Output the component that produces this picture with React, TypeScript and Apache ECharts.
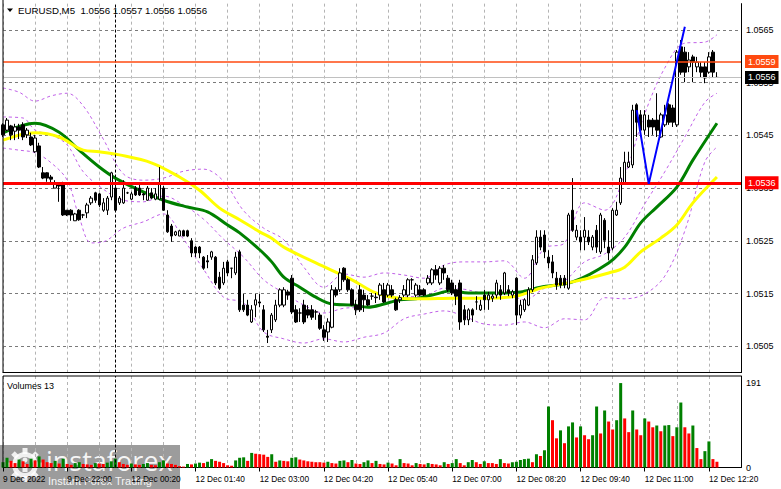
import React, { useEffect, useRef } from "react";
import * as echarts from "echarts";

const FONT = "'Liberation Sans', Arial, sans-serif";

// ---- candles (5-minute EURUSD) ----
const open = [
  1.05470,1.05460,1.05468,1.05458,1.05466,1.05470,1.05451,1.05447,1.05419,1.05430,
  1.05379,1.05379,1.05371,1.05350,1.05356,1.05360,1.05308,1.05308,1.05288,1.05308,
  1.05299,1.05303,1.05322,1.05341,1.05339,1.05308,1.05308,1.05333,1.05350,1.05322,
  1.05322,1.05341,1.05329,1.05350,1.05350,1.05339,1.05327,1.05341,1.05329,1.05329,
  1.05350,1.05299,1.05278,1.05261,1.05259,1.05269,1.05269,1.05250,1.05238,1.05238,
  1.05219,1.05212,1.05219,1.05219,1.05181,1.05170,1.05210,1.05198,1.05189,1.05229,
  1.05128,1.05128,1.05096,1.05128,1.05134,1.05119,1.05069,1.05081,1.05100,1.05128,
  1.05128,1.05153,1.05179,1.05119,1.05113,1.05128,1.05119,1.05119,1.05115,1.05109,
  1.05081,1.05077,1.05086,1.05157,1.05157,1.05198,1.05176,1.05157,1.05128,1.05157,
  1.05147,1.05138,1.05145,1.05143,1.05147,1.05157,1.05147,1.05157,1.05138,1.05138,
  1.05147,1.05147,1.05176,1.05147,1.05157,1.05157,1.05170,1.05170,1.05195,1.05170,
  1.05198,1.05179,1.05170,1.05157,1.05170,1.05119,1.05100,1.05119,1.05134,1.05119,
  1.05147,1.05138,1.05141,1.05147,1.05157,1.05151,1.05157,1.05147,1.05179,1.05109,
  1.05119,1.05128,1.05157,1.05208,1.05257,1.05261,1.05219,1.05210,1.05179,1.05179,
  1.05179,1.05160,1.05308,1.05257,1.05257,1.05257,1.05257,1.05238,1.05270,1.05229,
  1.05289,1.05238,1.05236,1.05299,1.05322,1.05360,1.05390,1.05394,1.05508,1.05489,
  1.05460,1.05479,1.05479,1.05479,1.05447,1.05470,1.05508,1.05502,1.05470,1.05618,
  1.05608,1.05580,1.05599,1.05580,1.05580,1.05580,1.05570,1.05608,1.05560,
];
const close = [
  1.05451,1.05479,1.05451,1.05466,1.05460,1.05447,1.05460,1.05432,1.05445,1.05390,
  1.05369,1.05369,1.05367,1.05360,1.05354,1.05299,1.05299,1.05299,1.05301,1.05290,
  1.05299,1.05318,1.05331,1.05327,1.05318,1.05322,1.05331,1.05379,1.05308,1.05331,
  1.05350,1.05341,1.05339,1.05337,1.05337,1.05337,1.05350,1.05331,1.05339,1.05360,
  1.05308,1.05267,1.05259,1.05267,1.05269,1.05259,1.05259,1.05227,1.05227,1.05227,
  1.05198,1.05210,1.05229,1.05170,1.05160,1.05198,1.05189,1.05198,1.05219,1.05119,
  1.05119,1.05109,1.05119,1.05138,1.05132,1.05081,1.05067,1.05109,1.05128,1.05157,
  1.05157,1.05147,1.05115,1.05096,1.05113,1.05096,1.05109,1.05105,1.05115,1.05084,
  1.05067,1.05096,1.05157,1.05147,1.05189,1.05176,1.05157,1.05128,1.05119,1.05119,
  1.05138,1.05128,1.05145,1.05142,1.05166,1.05134,1.05166,1.05147,1.05119,1.05142,
  1.05157,1.05176,1.05176,1.05166,1.05147,1.05147,1.05179,1.05195,1.05185,1.05198,
  1.05189,1.05157,1.05151,1.05145,1.05096,1.05100,1.05119,1.05109,1.05134,1.05128,
  1.05138,1.05147,1.05145,1.05170,1.05147,1.05189,1.05151,1.05153,1.05109,1.05128,
  1.05138,1.05157,1.05214,1.05257,1.05238,1.05229,1.05208,1.05189,1.05166,1.05166,
  1.05166,1.05299,1.05270,1.05270,1.05248,1.05270,1.05248,1.05257,1.05238,1.05299,
  1.05251,1.05227,1.05308,1.05308,1.05369,1.05399,1.05399,1.05498,1.05475,1.05460,
  1.05489,1.05466,1.05466,1.05460,1.05489,1.05489,1.05475,1.05475,1.05608,1.05570,
  1.05570,1.05593,1.05589,1.05589,1.05570,1.05559,1.05599,1.05570,1.05560,
];
const high = [
  1.05473,1.05483,1.05470,1.05472,1.05472,1.05475,1.05464,1.05455,1.05451,1.05436,
  1.05390,1.05380,1.05375,1.05365,1.05360,1.05362,1.05308,1.05310,1.05303,1.05310,
  1.05301,1.05322,1.05335,1.05343,1.05341,1.05331,1.05335,1.05381,1.05354,1.05335,
  1.05365,1.05343,1.05343,1.05354,1.05360,1.05341,1.05354,1.05350,1.05350,1.05390,
  1.05354,1.05308,1.05282,1.05269,1.05271,1.05271,1.05271,1.05255,1.05240,1.05240,
  1.05221,1.05223,1.05231,1.05221,1.05191,1.05210,1.05214,1.05198,1.05229,1.05233,
  1.05149,1.05138,1.05128,1.05149,1.05149,1.05128,1.05081,1.05113,1.05138,1.05160,
  1.05162,1.05157,1.05185,1.05128,1.05122,1.05138,1.05128,1.05128,1.05119,1.05113,
  1.05090,1.05103,1.05166,1.05162,1.05198,1.05200,1.05179,1.05160,1.05138,1.05166,
  1.05157,1.05147,1.05151,1.05151,1.05170,1.05170,1.05170,1.05166,1.05142,1.05147,
  1.05166,1.05179,1.05179,1.05170,1.05166,1.05160,1.05185,1.05198,1.05204,1.05202,
  1.05204,1.05185,1.05176,1.05166,1.05176,1.05128,1.05122,1.05122,1.05145,1.05138,
  1.05157,1.05153,1.05149,1.05176,1.05166,1.05191,1.05166,1.05157,1.05181,1.05138,
  1.05141,1.05162,1.05223,1.05270,1.05270,1.05270,1.05232,1.05223,1.05191,1.05185,
  1.05185,1.05303,1.05369,1.05280,1.05270,1.05295,1.05270,1.05261,1.05280,1.05303,
  1.05293,1.05270,1.05312,1.05324,1.05390,1.05419,1.05419,1.05508,1.05511,1.05498,
  1.05498,1.05489,1.05483,1.05530,1.05493,1.05508,1.05511,1.05508,1.05612,1.05631,
  1.05618,1.05608,1.05603,1.05599,1.05589,1.05589,1.05608,1.05612,1.05570,
];
const low = [
  1.05447,1.05458,1.05441,1.05441,1.05443,1.05441,1.05445,1.05430,1.05417,1.05388,
  1.05367,1.05362,1.05360,1.05350,1.05324,1.05297,1.05297,1.05288,1.05288,1.05288,
  1.05293,1.05293,1.05318,1.05322,1.05314,1.05305,1.05299,1.05327,1.05305,1.05318,
  1.05320,1.05339,1.05327,1.05335,1.05335,1.05327,1.05326,1.05329,1.05327,1.05327,
  1.05307,1.05265,1.05248,1.05259,1.05259,1.05259,1.05257,1.05219,1.05219,1.05217,
  1.05195,1.05198,1.05214,1.05166,1.05157,1.05166,1.05183,1.05179,1.05185,1.05115,
  1.05115,1.05107,1.05094,1.05105,1.05124,1.05077,1.05056,1.05075,1.05096,1.05124,
  1.05124,1.05138,1.05111,1.05094,1.05096,1.05092,1.05103,1.05100,1.05100,1.05081,
  1.05060,1.05058,1.05084,1.05143,1.05153,1.05172,1.05153,1.05126,1.05109,1.05115,
  1.05115,1.05126,1.05138,1.05132,1.05138,1.05132,1.05143,1.05143,1.05117,1.05132,
  1.05143,1.05143,1.05157,1.05143,1.05145,1.05145,1.05166,1.05166,1.05176,1.05166,
  1.05176,1.05153,1.05147,1.05128,1.05081,1.05090,1.05090,1.05096,1.05119,1.05117,
  1.05119,1.05119,1.05134,1.05141,1.05138,1.05147,1.05145,1.05141,1.05090,1.05103,
  1.05115,1.05126,1.05153,1.05204,1.05232,1.05217,1.05198,1.05179,1.05157,1.05160,
  1.05160,1.05157,1.05267,1.05251,1.05232,1.05232,1.05242,1.05232,1.05227,1.05225,
  1.05236,1.05213,1.05232,1.05297,1.05318,1.05356,1.05388,1.05388,1.05447,1.05447,
  1.05451,1.05447,1.05451,1.05447,1.05445,1.05466,1.05470,1.05466,1.05466,1.05565,
  1.05551,1.05570,1.05551,1.05570,1.05559,1.05549,1.05567,1.05559,1.05560,
];
const volume = [
  12,22,15,10,18,14,8,20,16,25,18,12,10,15,9,20,8,6,10,12,
  8,7,6,10,9,8,11,14,20,12,8,6,9,7,6,8,10,6,5,12,
  16,9,8,6,3,2,8,7,9,11,10,13,19,15,13,10,5,4,16,22,
  23,15,33,31,30,29,24,30,13,16,15,14,22,23,18,16,14,13,12,12,
  11,13,10,9,15,16,12,17,9,8,12,16,10,15,8,7,11,9,5,19,
  10,9,5,10,8,7,10,8,7,5,12,8,10,19,10,5,12,17,12,8,
  14,10,10,8,19,10,9,12,13,17,19,20,12,30,26,39,138,107,66,84,
  55,93,102,68,93,73,64,73,138,77,129,104,86,107,191,111,80,129,86,73,
  111,104,91,95,82,95,96,71,91,147,91,77,95,44,19,37,59,19,13,
];

// ---- indicators (read at sample candles) ----
const maGreenIdx = [0,8,14,19,24,28,34,40,46,51,56,59,64,67,70,74,78,82,87,91,95,99,103,107,112,116,120,124,129,134,142,151,155,159,163,168,172,178];
const maGreen = [1.05455,1.05473,1.05456,1.05422,1.05390,1.05369,1.05346,1.05327,1.05314,1.05305,1.05280,1.05265,1.05233,1.05210,1.05181,1.05162,1.05143,1.05130,1.05128,1.05124,1.05130,1.05138,1.05140,1.05147,1.05155,1.05151,1.05151,1.05151,1.05153,1.05162,1.05172,1.05208,1.05238,1.05284,1.05314,1.05352,1.05403,1.05473];
const maYellowIdx = [0,8,14,20,24,29,37,44,49,54,59,64,67,70,78,87,93,99,105,112,120,128,134,142,151,155,159,164,168,172,178];
const maYellow = [1.05441,1.05455,1.05447,1.05422,1.05419,1.05413,1.05398,1.05371,1.05346,1.05312,1.05290,1.05267,1.05255,1.05238,1.05208,1.05176,1.05151,1.05141,1.05140,1.05141,1.05141,1.05145,1.05160,1.05172,1.05189,1.05200,1.05229,1.05255,1.05280,1.05322,1.05371];
const bbUpperIdx = [0,4,8,12,16,20,25,30,35,40,45,50,55,60,65,70,75,80,85,90,95,100,105,110,115,120,125,130,135,140,145,150,155,160,165,170,175,178];
const bbUpper = [1.05540,1.05532,1.05515,1.05525,1.05530,1.05506,1.05443,1.05377,1.05365,1.05369,1.05382,1.05386,1.05363,1.05307,1.05274,1.05252,1.05200,1.05162,1.05187,1.05181,1.05189,1.05185,1.05179,1.05204,1.05210,1.05210,1.05212,1.05179,1.05236,1.05246,1.05322,1.05308,1.05375,1.05491,1.05578,1.05625,1.05627,1.05641];
const bbMiddleIdx = [0,5,8,12,16,20,25,30,35,40,45,50,55,60,65,70,75,80,85,90,95,100,105,110,115,120,125,130,135,140,145,150,155,160,165,170,175,178];
const bbMiddle = [1.05485,1.05483,1.05460,1.05451,1.05432,1.05381,1.05348,1.05327,1.05324,1.05335,1.05318,1.05291,1.05253,1.05219,1.05176,1.05151,1.05128,1.05113,1.05122,1.05124,1.05132,1.05143,1.05145,1.05160,1.05158,1.05151,1.05151,1.05138,1.05160,1.05174,1.05210,1.05225,1.05257,1.05320,1.05381,1.05447,1.05513,1.05530];
const bbLowerIdx = [0,4,8,12,16,19,22,25,30,35,40,45,50,55,60,65,70,75,80,85,90,95,100,105,110,115,120,125,130,135,140,145,150,155,160,165,170,175,178];
const bbLower = [1.05426,1.05422,1.05417,1.05398,1.05365,1.05295,1.05246,1.05248,1.05274,1.05286,1.05301,1.05253,1.05196,1.05143,1.05132,1.05077,1.05064,1.05056,1.05064,1.05058,1.05067,1.05075,1.05102,1.05111,1.05117,1.05107,1.05092,1.05090,1.05096,1.05085,1.05102,1.05100,1.05142,1.05140,1.05149,1.05183,1.05269,1.05400,1.05428];
const trendIdx = [158, 161, 170];
const trendVal = [1.05498, 1.05358, 1.05656];

// ---- levels & axes ----
const resistanceLevel = 1.0559;
const supportLevel = 1.0536;
const priceTicks = [1.0505, 1.0515, 1.0525, 1.0535, 1.0545, 1.0555, 1.0565];
const volumeTicks = [0, 191];
const timeTickLabels = ["9 Dec 2022", "9 Dec 22:00", "12 Dec 00:20", "12 Dec 01:40", "12 Dec 03:00", "12 Dec 04:20", "12 Dec 05:40", "12 Dec 07:00", "12 Dec 08:20", "12 Dec 09:40", "12 Dec 11:00", "12 Dec 12:20"];
const DAY_BREAK = 28;
const SLOT_COUNT = 185;

function buildCategories(): string[] {
  const out: string[] = [];
  for (let i = 0; i < SLOT_COUNT; i++) {
    const day = i < DAY_BREAK ? "9 Dec" : "12 Dec";
    const mins = i < DAY_BREAK ? 20 * 60 + 40 + 5 * i : 5 * (i - DAY_BREAK);
    const hh = String(Math.floor(mins / 60)).padStart(2, "0");
    const mm = String(mins % 60).padStart(2, "0");
    out.push(`${day} ${hh}:${mm}`);
  }
  return out;
}

const pairs = (idx: number[], val: number[]) => idx.map((k, j) => [k, val[j]]);

function buildOption() {
  const categories = buildCategories();
  const last = open.length - 1;
  const bid = close[last];
  const GREEN = "#008000";
  const RED = "#FF0000";
  const GRID = "#b4b4b4";
  const violet = { color: "#C060E8", width: 1, type: [3, 3] as any };

  const tag = (text: string, bg: string) => ({
    show: true,
    position: "end",
    formatter: text,
    distance: 4,
    backgroundColor: bg,
    color: "#fff",
    fontSize: 9,
    fontFamily: FONT,
    padding: [2, 3, 2, 3],
  });

  return {
    animation: false,
    backgroundColor: "#ffffff",
    textStyle: { fontFamily: FONT },
    grid: [
      { left: 3, right: 40, top: 3.65, height: 368.9 },
      { left: 3, right: 40, top: 376, height: 91.5 },
    ],
    xAxis: [
      {
        type: "category", gridIndex: 0, data: categories, boundaryGap: false,
        axisLine: { show: true, lineStyle: { color: "#000", width: 1 } },
        axisTick: { show: false }, axisLabel: { show: false },
        splitLine: { show: true, interval: 7, lineStyle: { color: GRID, type: [3, 3], width: 1 } },
      },
      {
        type: "category", gridIndex: 1, data: categories, boundaryGap: false,
        axisLine: { show: true, lineStyle: { color: "#000", width: 1 } },
        axisTick: { show: true, interval: 15, length: 4, lineStyle: { color: "#000" } },
        axisLabel: {
          show: true, interval: 15, align: "left", margin: 7, fontSize: 8.3, color: "#000", fontFamily: FONT,
          formatter: (_v: string, i: number) => timeTickLabels[Math.round(i / 16)] ?? "",
        },
        splitLine: { show: true, interval: 7, lineStyle: { color: GRID, type: [3, 3], width: 1 } },
      },
    ],
    yAxis: [
      {
        type: "value", gridIndex: 0, position: "right", min: 1.05, max: 1.057, interval: 0.0005,
        axisLine: { show: true, lineStyle: { color: "#000" } },
        axisTick: { show: false },
        // every second split line (the x.xxx5 levels) is drawn, the others are transparent
        splitLine: { show: true, lineStyle: { color: ["rgba(0,0,0,0)", "#7a7a7a"], type: [3, 3], width: 1 } },
        axisLabel: {
          margin: 5, fontSize: 9, color: "#000", fontFamily: FONT,
          formatter: (v: number) => (priceTicks.some((t) => Math.abs(t - v) < 1e-7) ? v.toFixed(4) : ""),
        },
      },
      {
        type: "value", gridIndex: 1, position: "right", min: 0, max: 207, interval: 191,
        axisLine: { show: true, lineStyle: { color: "#000" } },
        axisTick: { show: false }, splitLine: { show: false },
        axisLabel: {
          margin: 5, fontSize: 9, color: "#000", fontFamily: FONT, showMaxLabel: false,
          formatter: (v: number) => (volumeTicks.includes(v) ? String(v) : ""),
        },
      },
    ],
    series: [
      {
        name: "BB upper", type: "line", xAxisIndex: 0, yAxisIndex: 0, z: 2,
        data: pairs(bbUpperIdx, bbUpper), smooth: 0.35, showSymbol: false, symbol: "none",
        lineStyle: violet, silent: true,
        markLine: {
          silent: true, symbol: ["none", "none"], label: { show: false }, precision: 6,
          data: [{ xAxis: categories[DAY_BREAK], lineStyle: { color: "#000", type: [3, 2], width: 1 } }],
        },
      },
      {
        name: "BB middle", type: "line", xAxisIndex: 0, yAxisIndex: 0, z: 2,
        data: pairs(bbMiddleIdx, bbMiddle), smooth: 0.35, showSymbol: false, symbol: "none",
        lineStyle: violet, silent: true,
      },
      {
        name: "BB lower", type: "line", xAxisIndex: 0, yAxisIndex: 0, z: 2,
        data: pairs(bbLowerIdx, bbLower), smooth: 0.35, showSymbol: false, symbol: "none",
        lineStyle: violet, silent: true,
      },
      {
        name: "MA green", type: "line", xAxisIndex: 0, yAxisIndex: 0, z: 3,
        data: pairs(maGreenIdx, maGreen), smooth: 0.35, showSymbol: false, symbol: "none",
        lineStyle: { color: GREEN, width: 3 }, silent: true,
      },
      {
        name: "MA yellow", type: "line", xAxisIndex: 0, yAxisIndex: 0, z: 3,
        data: pairs(maYellowIdx, maYellow), smooth: 0.35, showSymbol: false, symbol: "none",
        lineStyle: { color: "#FFFF00", width: 3 }, silent: true,
      },
      {
        name: "EURUSD", type: "candlestick", xAxisIndex: 0, yAxisIndex: 0, z: 4, barWidth: 3,
        data: open.map((o, i) => [o, close[i], low[i], high[i]]),
        itemStyle: { color: "#ffffff", color0: "#000000", borderColor: "#000000", borderColor0: "#000000", borderWidth: 1 },
      },
      {
        name: "trend", type: "line", xAxisIndex: 0, yAxisIndex: 0, z: 6,
        data: pairs(trendIdx, trendVal), showSymbol: false, symbol: "none",
        lineStyle: { color: "#0000FF", width: 2 }, silent: true,
        markLine: {
          silent: true, symbol: ["none", "none"], precision: 6,
          data: [
            { yAxis: resistanceLevel, lineStyle: { color: "#FF4A10", width: 1.5, type: "solid" }, label: tag(resistanceLevel.toFixed(4), "#FF4A10") },
            { yAxis: bid, lineStyle: { color: "#C0C0C0", width: 1, type: "solid" }, label: tag(bid.toFixed(4), "#000000") },
            { yAxis: supportLevel, lineStyle: { color: "#FF0000", width: 3, type: "solid" }, label: tag(supportLevel.toFixed(4), "#FF0000") },
          ],
        },
      },
      {
        name: "Volumes", type: "bar", xAxisIndex: 1, yAxisIndex: 1, barWidth: 3,
        data: volume.map((v, i) => ({ value: v, itemStyle: { color: i === 0 || v > volume[i - 1] ? GREEN : RED } })),
        markLine: {
          silent: true, symbol: ["none", "none"], label: { show: false },
          data: [{ xAxis: categories[DAY_BREAK], lineStyle: { color: "#000", type: [3, 2], width: 1 } }],
        },
      },
    ],
    graphic: [
      { type: "line", shape: { x1: 3, y1: 0, x2: 3, y2: 372.5 }, style: { stroke: "#000", lineWidth: 1 }, z: 50 },
      { type: "line", shape: { x1: 3, y1: 376, x2: 3, y2: 467.5 }, style: { stroke: "#000", lineWidth: 1 }, z: 50 },
      { type: "line", shape: { x1: 3, y1: 376, x2: 741, y2: 376 }, style: { stroke: "#000", lineWidth: 1 }, z: 50 },
      { type: "polygon", shape: { points: [[7, 8.5], [13, 8.5], [10, 12]] }, style: { fill: "#000" }, z: 50 },
      {
        type: "text", x: 18, y: 10.5, z: 50,
        style: {
          text: `EURUSD,M5  ${open[last].toFixed(4)} ${high[last].toFixed(4)} ${low[last].toFixed(4)} ${close[last].toFixed(4)}`,
          fill: "#000", fontSize: 9.7, fontFamily: FONT, verticalAlign: "middle", textVerticalAlign: "middle",
        },
      },
      {
        type: "text", x: 7, y: 386, z: 50,
        style: { text: `Volumes ${volume[last]}`, fill: "#000", fontSize: 9, fontFamily: FONT, verticalAlign: "middle", textVerticalAlign: "middle" },
      },
      {
        type: "group", z: 100,
        children: [
          { type: "rect", shape: { x: 0, y: 445, width: 180, height: 44 }, style: { fill: "rgba(95,95,95,0.62)" } },
          { type: "ring", shape: { cx: 25, cy: 465, r: 13, r0: 8 }, style: { fill: "rgba(255,255,255,0.85)" } },
          ...[0, 1, 2, 3, 4, 5, 6, 7].map((k) => ({
            type: "rect", x: 25, y: 465, rotation: (k * Math.PI) / 4,
            shape: { x: -2.5, y: -17, width: 5, height: 6 }, style: { fill: "rgba(255,255,255,0.85)" },
          })),
          { type: "circle", shape: { cx: 25, cy: 460, r: 2.5 }, style: { fill: "rgba(255,255,255,0.85)" } },
          { type: "rect", shape: { x: 22.5, y: 464, width: 5, height: 8 }, style: { fill: "rgba(255,255,255,0.85)" } },
          {
            type: "text", x: 46, y: 460,
            style: { text: "instaforex", fill: "rgba(255,255,255,0.92)", fontSize: 27, fontFamily: "'Open Sans', sans-serif", verticalAlign: "middle", textVerticalAlign: "middle" },
          },
          {
            type: "text", x: 48, y: 481,
            style: { text: "Instant Forex Trading", fill: "rgba(255,255,255,0.92)", fontSize: 11, fontFamily: FONT, verticalAlign: "middle", textVerticalAlign: "middle" },
          },
        ],
      },
    ],
  };
}

export default function App() {
  const ref = useRef<HTMLDivElement>(null);
  useEffect(() => {
    if (!ref.current) return;
    const chart = echarts.init(ref.current, undefined, { renderer: "svg" });
    chart.setOption(buildOption() as any);
    return () => chart.dispose();
  }, []);
  return <div ref={ref} style={{ position: "fixed", left: 0, top: 0, width: 781, height: 489, background: "#fff" }} />;
}
